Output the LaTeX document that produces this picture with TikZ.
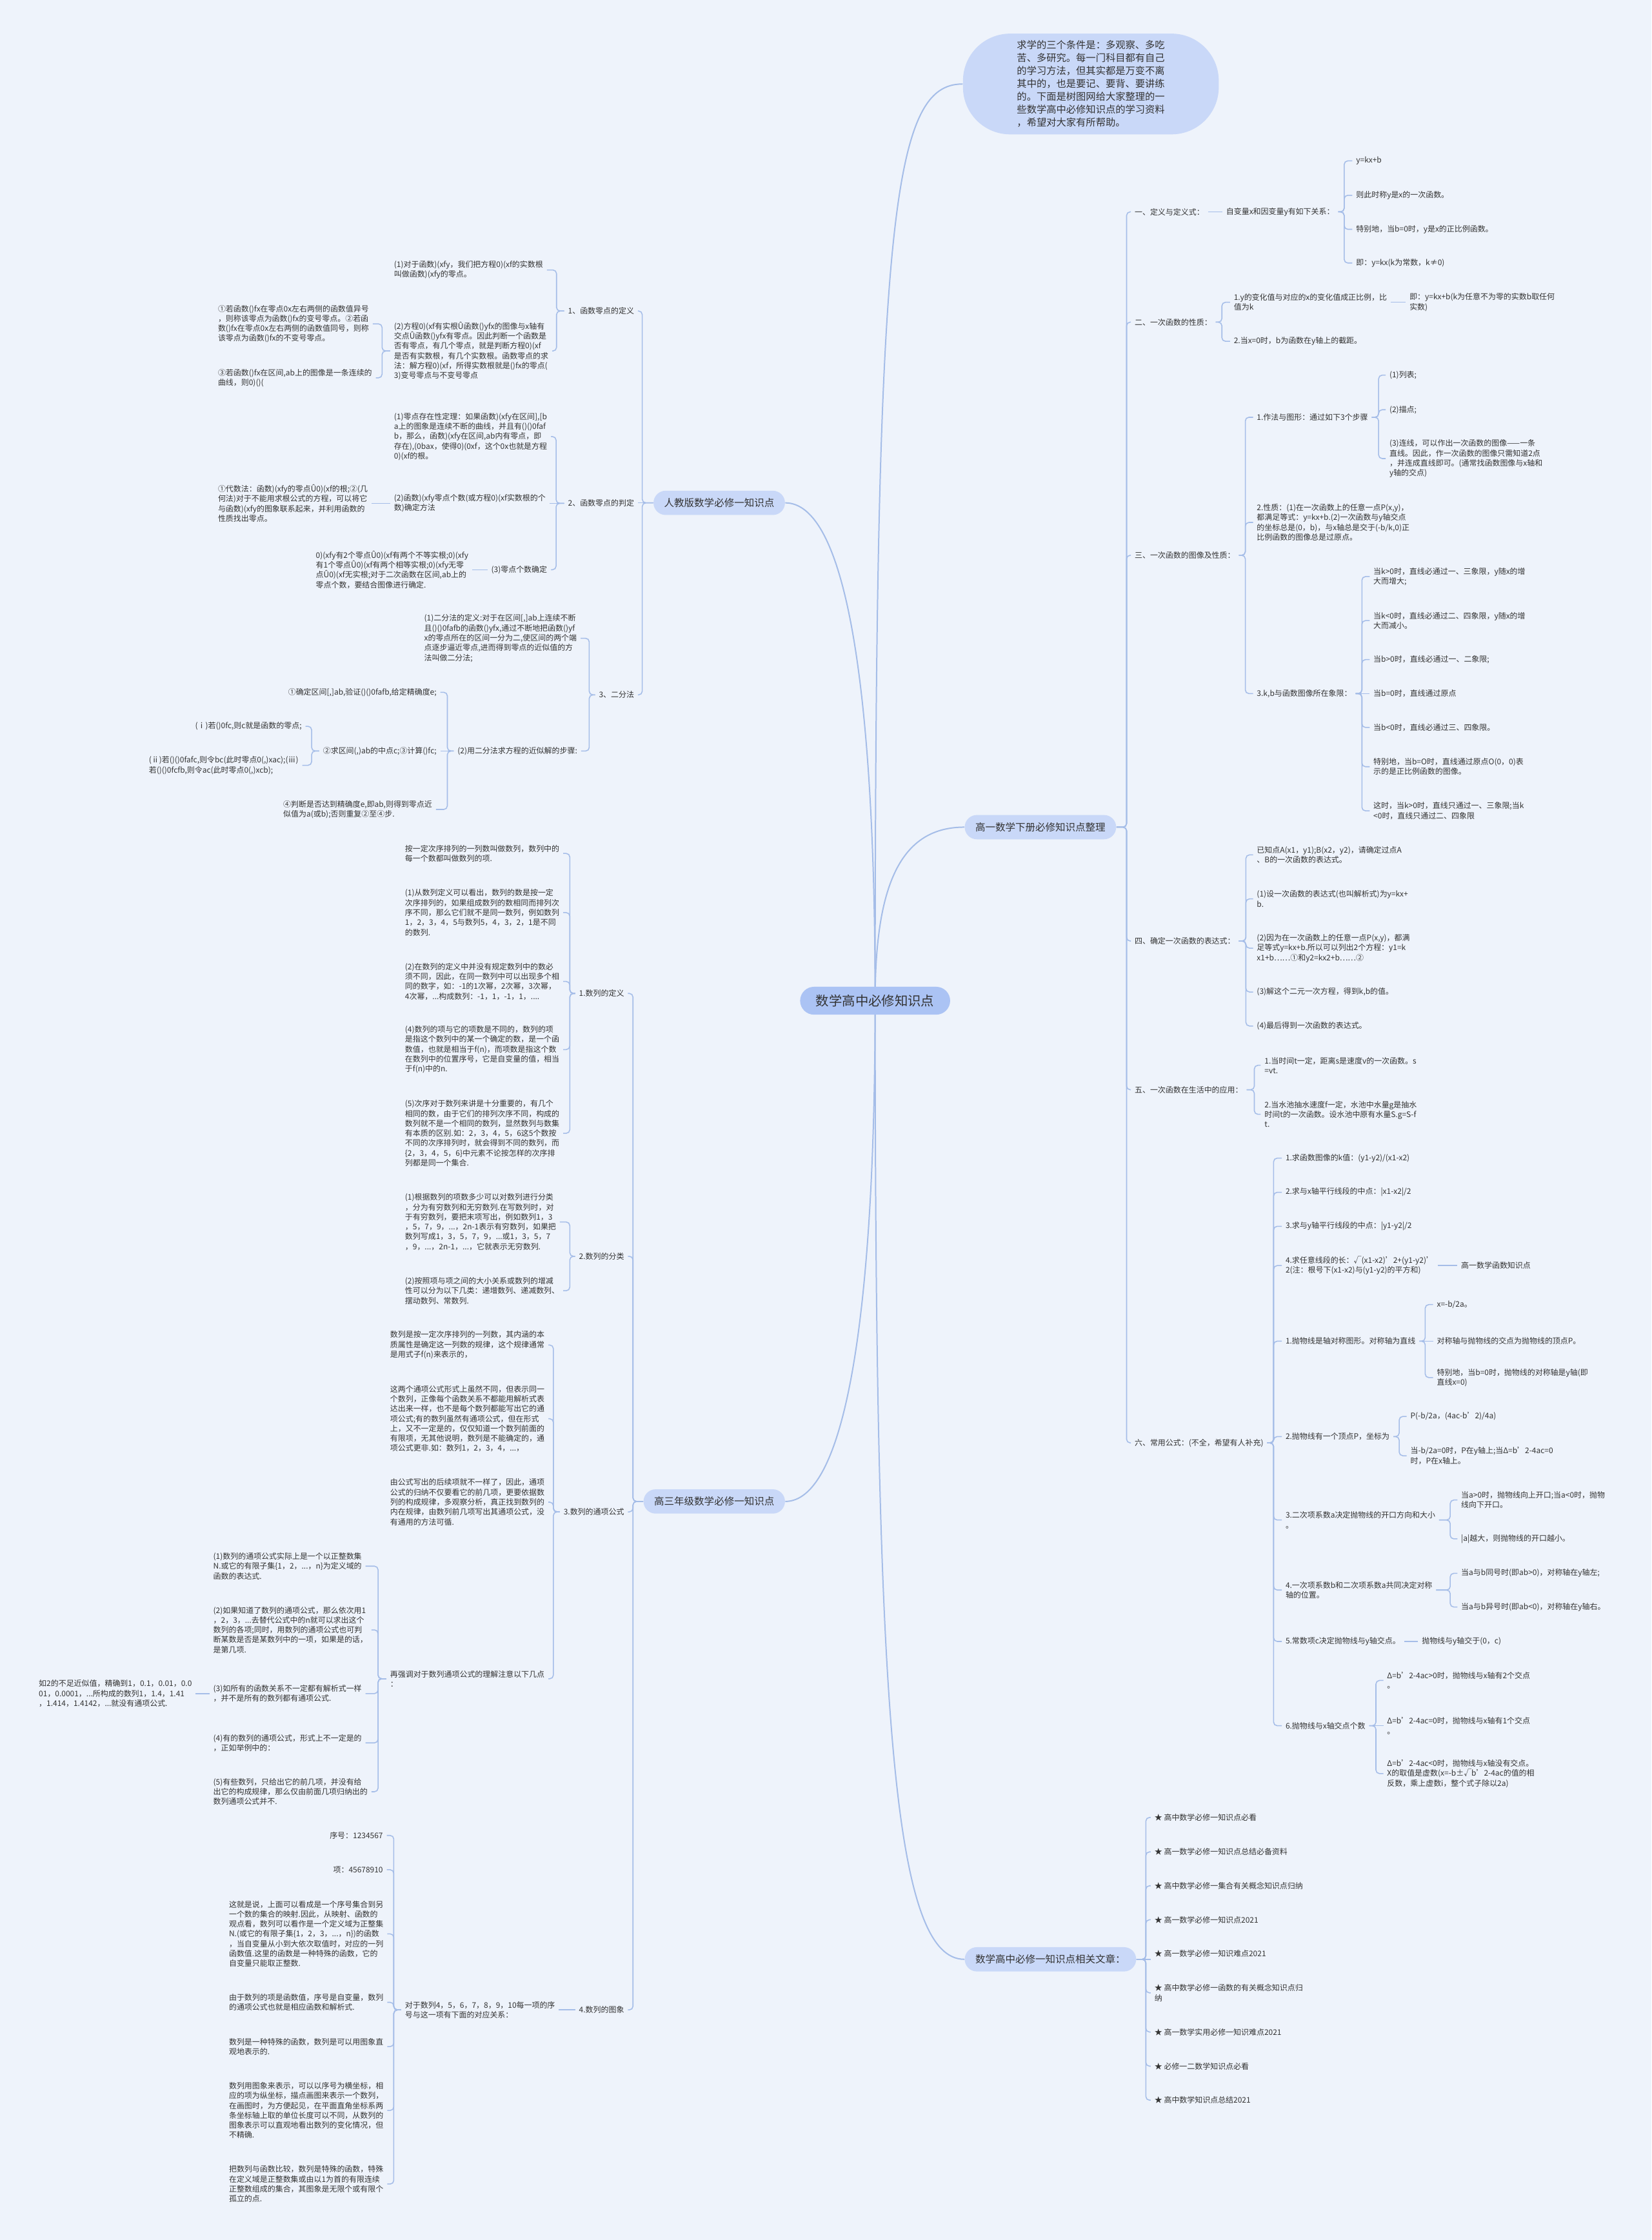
\documentclass[tikz,border=0pt]{standalone}
\usepackage{fontspec}
\setmainfont{Noto Sans CJK SC}
\usetikzlibrary{calc}
\pgfdeclarelayer{bg}
\pgfsetlayers{bg,main}
\definecolor{bgc}{HTML}{EEF3FB}
\definecolor{lnc}{HTML}{A5BDE8}
\definecolor{cfill}{HTML}{ABC3F4}
\definecolor{bfill}{HTML}{C9D8F8}
\definecolor{tc}{HTML}{333333}
\newcommand\cnR[3]{\draw[conn] let \p1=(#1.east) in (\p1) -- (#2pt,\y1) |- (#3.west);}
\newcommand\cnL[3]{\draw[conn] let \p1=(#1.west) in (\p1) -- (#2pt,\y1) |- (#3.east);}
\newcommand\snR[2]{\draw[conn] (#1.east) -- (#1.east -| #2.west);}
\newcommand\snL[2]{\draw[conn] (#1.west) -- (#1.west -| #2.east);}
\begin{document}
\begin{tikzpicture}[x=1pt,y=-1pt,
  txt/.style={font=\fontsize{5.4}{6.9}\selectfont, align=left, inner xsep=2.5pt, inner ysep=0.5pt, text=tc},
  rt/.style={txt, anchor=west, xshift=-2.5pt},
  le/.style={txt, anchor=east, xshift=2.5pt},
  conn/.style={draw=lnc, line width=0.7pt, rounded corners=2.5pt},
  mainl/.style={draw=lnc, line width=0.9pt},
  cnode/.style={fill=cfill, rounded corners=9.75pt, minimum height=19.5pt, minimum width=105pt, inner sep=0pt, font=\fontsize{9.2}{11}\selectfont, text=tc},
  bnode/.style={fill=bfill, rounded corners=8.5pt, minimum height=17pt, inner xsep=7.5pt, inner ysep=0pt, font=\fontsize{7}{8.5}\selectfont, text=tc},
  bubble/.style={fill=bfill, rounded corners=33pt, minimum width=179pt, minimum height=70.5pt, inner sep=0pt, align=left, font=\fontsize{6.9}{9.03}\selectfont, text=tc}]
\useasboundingbox (0,0) rectangle (1156,1568);

% ---------- main nodes
\node[cnode] (C) at (612.5,700.5) {数学高中必修知识点};
\node[bubble] (T) at (763.5,58.8) {求学的三个条件是：多观察、多吃\\苦、多研究。每一门科目都有自己\\的学习方法，但其实都是万变不离\\其中的，也是要记、要背、要讲练\\的。下面是树图网给大家整理的一\\些数学高中必修知识点的学习资料\\，希望对大家有所帮助。};
\node[bnode, anchor=east] (L1) at (549.6,352) {人教版数学必修一知识点};
\node[bnode, anchor=east] (L2) at (549.6,1051) {高三年级数学必修一知识点};
\node[bnode, anchor=west] (R1) at (675,579) {高一数学下册必修知识点整理};
\node[bnode, anchor=west] (R2) at (675,1371.5) {数学高中必修一知识点相关文章：};

% ---------- right branch R1
\node[rt] (r1) at (794,148.3) {一、定义与定义式：};
\node[rt] (r1a) at (858,148.3) {自变量x和因变量y有如下关系：};
\node[rt] (r1a1) at (949,112.6) {y=kx+b};
\node[rt] (r1a2) at (949,136.7) {则此时称y是x的一次函数。};
\node[rt] (r1a3) at (949,160.5) {特别地，当b=0时，y是x的正比例函数。};
\node[rt] (r1a4) at (949,184.1) {即：y=kx(k为常数，k≠0)};

\node[rt] (r2) at (794,225.5) {二、一次函数的性质：};
\node[rt] (r2a) at (863.4,211.6) {1.y的变化值与对应的x的变化值成正比例，比\\值为k};
\node[rt] (r2a1) at (986.4,211.6) {即：y=kx+b(k为任意不为零的实数b取任何\\实数)};
\node[rt] (r2b) at (863.4,238.9) {2.当x=0时，b为函数在y轴上的截距。};

\node[rt] (r3) at (794,388.7) {三、一次函数的图像及性质：};
\node[rt] (r3a) at (879.5,292.1) {1.作法与图形：通过如下3个步骤};
\node[rt] (r3a1) at (972.3,262.6) {(1)列表;};
\node[rt] (r3a2) at (972.3,286.8) {(2)描点;};
\node[rt] (r3a3) at (972.3,321) {(3)连线，可以作出一次函数的图像——一条\\直线。因此，作一次函数的图像只需知道2点\\，并连成直线即可。(通常找函数图像与x轴和\\y轴的交点)};
\node[rt] (r3b) at (879.5,365.7) {2.性质：(1)在一次函数上的任意一点P(x,y)，\\都满足等式：y=kx+b.(2)一次函数与y轴交点\\的坐标总是(0，b)，与x轴总是交于(-b/k,0)正\\比例函数的图像总是过原点。};
\node[rt] (r3c) at (879.5,485.5) {3.k,b与函数图像所在象限：};
\node[rt] (r3c1) at (961.1,403.6) {当k>0时，直线必通过一、三象限，y随x的增\\大而增大;};
\node[rt] (r3c2) at (961.1,434.4) {当k<0时，直线必通过二、四象限，y随x的增\\大而减小。};
\node[rt] (r3c3) at (961.1,461.7) {当b>0时，直线必通过一、二象限;};
\node[rt] (r3c4) at (961.1,485.5) {当b=0时，直线通过原点};
\node[rt] (r3c5) at (961.1,509.2) {当b<0时，直线必通过三、四象限。};
\node[rt] (r3c6) at (961.1,536.7) {特别地，当b=O时，直线通过原点O(0，0)表\\示的是正比例函数的图像。};
\node[rt] (r3c7) at (961.1,567.6) {这时，当k>0时，直线只通过一、三象限;当k\\<0时，直线只通过二、四象限};

\node[rt] (r4) at (794,658.7) {四、确定一次函数的表达式：};
\node[rt] (r4a) at (879.5,598.4) {已知点A(x1，y1);B(x2，y2)，请确定过点A\\、B的一次函数的表达式。};
\node[rt] (r4b) at (879.5,629.2) {(1)设一次函数的表达式(也叫解析式)为y=kx+\\b.};
\node[rt] (r4c) at (879.5,663.7) {(2)因为在一次函数上的任意一点P(x,y)，都满\\足等式y=kx+b.所以可以列出2个方程：y1=k\\x1+b……①和y2=kx2+b……②};
\node[rt] (r4d) at (879.5,694.4) {(3)解这个二元一次方程，得到k,b的值。};
\node[rt] (r4e) at (879.5,718.2) {(4)最后得到一次函数的表达式。};

\node[rt] (r5) at (794,762.8) {五、一次函数在生活中的应用：};
\node[rt] (r5a) at (884.9,745.7) {1.当时间t一定，距离s是速度v的一次函数。s\\=vt.};
\node[rt] (r5b) at (884.9,780) {2.当水池抽水速度f一定，水池中水量g是抽水\\时间t的一次函数。设水池中原有水量S.g=S-f\\t.};

\node[rt] (r6) at (794,1010) {六、常用公式：(不全，希望有人补充)};
\node[rt] (r6a) at (899.6,810.7) {1.求函数图像的k值：(y1-y2)/(x1-x2)};
\node[rt] (r6b) at (899.6,834.6) {2.求与x轴平行线段的中点：|x1-x2|/2};
\node[rt] (r6c) at (899.6,858.4) {3.求与y轴平行线段的中点：|y1-y2|/2};
\node[rt] (r6d) at (899.6,885.9) {4.求任意线段的长：√(x1-x2)’2+(y1-y2)’\\2(注：根号下(x1-x2)与(y1-y2)的平方和)};
\node[rt] (r6d1) at (1022.5,885.9) {高一数学函数知识点};
\node[rt] (r6e) at (899.6,938.8) {1.抛物线是轴对称图形。对称轴为直线};
\node[rt] (r6e1) at (1005.5,913.2) {x=-b/2a。};
\node[rt] (r6e2) at (1005.5,938.8) {对称轴与抛物线的交点为抛物线的顶点P。};
\node[rt] (r6e3) at (1005.5,964.3) {特别地，当b=0时，抛物线的对称轴是y轴(即\\直线x=0)};
\node[rt] (r6f) at (899.6,1005.6) {2.抛物线有一个顶点P，坐标为};
\node[rt] (r6f1) at (987,991.5) {P(-b/2a，(4ac-b’2)/4a)};
\node[rt] (r6f2) at (987,1019) {当-b/2a=0时，P在y轴上;当Δ=b’2-4ac=0\\时，P在x轴上。};
\node[rt] (r6g) at (899.6,1064) {3.二次项系数a决定抛物线的开口方向和大小\\。};
\node[rt] (r6g1) at (1022.5,1050) {当a>0时，抛物线向上开口;当a<0时，抛物\\线向下开口。};
\node[rt] (r6g2) at (1022.5,1077.2) {|a|越大，则抛物线的开口越小。};
\node[rt] (r6h) at (899.6,1113) {4.一次项系数b和二次项系数a共同决定对称\\轴的位置。};
\node[rt] (r6h1) at (1022.5,1101.3) {当a与b同号时(即ab>0)，对称轴在y轴左;};
\node[rt] (r6h2) at (1022.5,1124.9) {当a与b异号时(即ab<0)，对称轴在y轴右。};
\node[rt] (r6i) at (899.6,1149) {5.常数项c决定抛物线与y轴交点。};
\node[rt] (r6i1) at (995,1149) {抛物线与y轴交于(0，c)};
\node[rt] (r6j) at (899.6,1208) {6.抛物线与x轴交点个数};
\node[rt] (r6j1) at (970.7,1176.3) {Δ=b’2-4ac>0时，抛物线与x轴有2个交点\\。};
\node[rt] (r6j2) at (970.7,1208) {Δ=b’2-4ac=0时，抛物线与x轴有1个交点\\。};
\node[rt] (r6j3) at (970.7,1241.5) {Δ=b’2-4ac<0时，抛物线与x轴没有交点。\\X的取值是虚数(x=-b±√b’2-4ac的值的相\\反数，乘上虚数i，整个式子除以2a)};

% ---------- right branch R2
\node[rt] (s1) at (807.9,1272.2) {★ 高中数学必修一知识点必看};
\node[rt] (s2) at (807.9,1296.3) {★ 高一数学必修一知识点总结必备资料};
\node[rt] (s3) at (807.9,1320) {★ 高中数学必修一集合有关概念知识点归纳};
\node[rt] (s4) at (807.9,1343.8) {★ 高一数学必修一知识点2021};
\node[rt] (s5) at (807.9,1367.7) {★ 高一数学必修一知识难点2021};
\node[rt] (s6) at (807.9,1395) {★ 高中数学必修一函数的有关概念知识点归\\纳};
\node[rt] (s7) at (807.9,1422.4) {★ 高一数学实用必修一知识难点2021};
\node[rt] (s8) at (807.9,1446.3) {★ 必修一二数学知识点必看};
\node[rt] (s9) at (807.9,1470.1) {★ 高中数学知识点总结2021};

% ---------- left branch L1
\node[le] (l1) at (444,217.7) {1、函数零点的定义};
\node[rt] (l1a) at (275.6,189) {(1)对于函数)(xfy，我们把方程0)(xf的实数根\\叫做函数)(xfy的零点。};
\node[rt] (l1b) at (275.6,245.7) {(2)方程0)(xf有实根Û函数()yfx的图像与x轴有\\交点Û函数()yfx有零点。因此判断一个函数是\\否有零点，有几个零点，就是判断方程0)(xf\\是否有实数根，有几个实数根。函数零点的求\\法：解方程0)(xf，所得实数根就是()fx的零点(\\3)变号零点与不变号零点};
\node[rt] (l1b1) at (152.4,226.7) {①若函数()fx在零点0x左右两侧的函数值异号\\，则称该零点为函数()fx的变号零点。②若函\\数()fx在零点0x左右两侧的函数值同号，则称\\该零点为函数()fx的不变号零点。};
\node[rt] (l1b2) at (152.4,264.5) {③若函数()fx在区间,ab上的图像是一条连续的\\曲线，则0)()(};

\node[le] (l2) at (444,352.3) {2、函数零点的判定};
\node[rt] (l2a) at (275.6,305.6) {(1)零点存在性定理：如果函数)(xfy在区间],[b\\a上的图象是连续不断的曲线，并且有()()0faf\\b，那么，函数)(xfy在区间,ab内有零点，即\\存在),(0bax，使得0)(0xf，这个0x也就是方程\\0)(xf的根。};
\node[rt] (l2b) at (275.6,352.3) {(2)函数)(xfy零点个数(或方程0)(xf实数根的个\\数)确定方法};
\node[rt] (l2b1) at (152.4,352.3) {①代数法：函数)(xfy的零点Û0)(xf的根;②(几\\何法)对于不能用求根公式的方程，可以将它\\与函数)(xfy的图象联系起来，并利用函数的\\性质找出零点。};
\node[le] (l2c) at (383.1,398.8) {(3)零点个数确定};
\node[rt] (l2c1) at (220.9,398.8) {0)(xfy有2个零点Û0)(xf有两个不等实根;0)(xfy\\有1个零点Û0)(xf有两个相等实根;0)(xfy无零\\点Û0)(xf无实根;对于二次函数在区间,ab上的\\零点个数，要结合图像进行确定.};

\node[le] (l3) at (444,486.4) {3、二分法};
\node[rt] (l3a) at (296.7,446.8) {(1)二分法的定义:对于在区间[,]ab上连续不断\\且()()0fafb的函数()yfx,通过不断地把函数()yf\\x的零点所在的区间一分为二,使区间的两个端\\点逐步逼近零点,进而得到零点的近似值的方\\法叫做二分法;};
\node[le] (l3b) at (404.2,525.7) {(2)用二分法求方程的近似解的步骤:};
\node[le] (l3b1) at (305.7,484.6) {①确定区间[,]ab,验证()()0fafb,给定精确度e;};
\node[le] (l3b2) at (305.7,525.7) {②求区间(,)ab的中点c;③计算()fc;};
\node[le] (l3b2a) at (211.3,508.4) {(ⅰ)若()0fc,则c就是函数的零点;};
\node[rt] (l3b2b) at (104,535.7) {(ⅱ)若()()0fafc,则令bc(此时零点0(,)xac);(ⅲ)\\若()()0fcfb,则令ac(此时零点0(,)xcb);};
\node[rt] (l3b3) at (198.1,566.6) {④判断是否达到精确度e,即ab,则得到零点近\\似值为a(或b);否则重复②至④步.};

% ---------- left branch L2
\node[le] (m1) at (437,695.4) {1.数列的定义};
\node[rt] (m1a) at (283.3,597.4) {按一定次序排列的一列数叫做数列，数列中的\\每一个数都叫做数列的项.};
\node[rt] (m1b) at (283.3,638.8) {(1)从数列定义可以看出，数列的数是按一定\\次序排列的，如果组成数列的数相同而排列次\\序不同，那么它们就不是同一数列，例如数列\\1，2，3，4，5与数列5，4，3，2，1是不同\\的数列.};
\node[rt] (m1c) at (283.3,687) {(2)在数列的定义中并没有规定数列中的数必\\须不同，因此，在同一数列中可以出现多个相\\同的数字，如：-1的1次幂，2次幂，3次幂，\\4次幂，...构成数列：-1，1，-1，1，....};
\node[rt] (m1d) at (283.3,734.7) {(4)数列的项与它的项数是不同的，数列的项\\是指这个数列中的某一个确定的数，是一个函\\数值，也就是相当于f(n)，而项数是指这个数\\在数列中的位置序号，它是自变量的值，相当\\于f(n)中的n.};
\node[rt] (m1e) at (283.3,793.3) {(5)次序对于数列来讲是十分重要的，有几个\\相同的数，由于它们的排列次序不同，构成的\\数列就不是一个相同的数列，显然数列与数集\\有本质的区别.如：2，3，4，5，6这5个数按\\不同的次序排列时，就会得到不同的数列，而\\\{2，3，4，5，6\}中元素不论按怎样的次序排\\列都是同一个集合.};

\node[le] (m2) at (437,879.4) {2.数列的分类};
\node[rt] (m2a) at (283.3,855.4) {(1)根据数列的项数多少可以对数列进行分类\\，分为有穷数列和无穷数列.在写数列时，对\\于有穷数列，要把末项写出，例如数列1，3\\，5，7，9，...，2n-1表示有穷数列，如果把\\数列写成1，3，5，7，9，...或1，3，5，7\\，9，...，2n-1，...，它就表示无穷数列.};
\node[rt] (m2b) at (283.3,903.5) {(2)按照项与项之间的大小关系或数列的增减\\性可以分为以下几类：递增数列、递减数列、\\摆动数列、常数列.};

\node[le] (m3) at (437,1058.3) {3.数列的通项公式};
\node[rt] (m3a) at (272.9,941.5) {数列是按一定次序排列的一列数，其内涵的本\\质属性是确定这一列数的规律，这个规律通常\\是用式子f(n)来表示的，};
\node[rt] (m3b) at (272.9,993.1) {这两个通项公式形式上虽然不同，但表示同一\\个数列，正像每个函数关系不都能用解析式表\\达出来一样，也不是每个数列都能写出它的通\\项公式;有的数列虽然有通项公式，但在形式\\上，又不一定是的，仅仅知道一个数列前面的\\有限项，无其他说明，数列是不能确定的，通\\项公式更非.如：数列1，2，3，4，...，};
\node[rt] (m3c) at (272.9,1051.5) {由公式写出的后续项就不一样了，因此，通项\\公式的归纳不仅要看它的前几项，更要依据数\\列的构成规律，多观察分析，真正找到数列的\\内在规律，由数列前几项写出其通项公式，没\\有通用的方法可循.};
\node[rt] (m3d) at (272.9,1175.1) {再强调对于数列通项公式的理解注意以下几点\\：};
\node[rt] (m3d1) at (149.1,1096.3) {(1)数列的通项公式实际上是一个以正整数集\\N.或它的有限子集\{1，2，...，n\}为定义域的\\函数的表达式.};
\node[rt] (m3d2) at (149.1,1140.9) {(2)如果知道了数列的通项公式，那么依次用1\\，2，3，...去替代公式中的n就可以求出这个\\数列的各项;同时，用数列的通项公式也可判\\断某数是否是某数列中的一项，如果是的话，\\是第几项.};
\node[rt] (m3d3) at (149.1,1185.5) {(3)如所有的函数关系不一定都有解析式一样\\，并不是所有的数列都有通项公式.};
\node[rt] (m3d3a) at (27,1185.5) {如2的不足近似值，精确到1，0.1，0.01，0.0\\01，0.0001，...所构成的数列1，1.4，1.41\\，1.414，1.4142，...就没有通项公式.};
\node[rt] (m3d4) at (149.1,1220) {(4)有的数列的通项公式，形式上不一定是的\\，正如举例中的：};
\node[rt] (m3d5) at (149.1,1254.2) {(5)有些数列，只给出它的前几项，并没有给\\出它的构成规律，那么仅由前面几项归纳出的\\数列通项公式并不.};

\node[le] (m4) at (437,1406.9) {4.数列的图象};
\node[rt] (m4a) at (283.3,1406.9) {对于数列4，5，6，7，8，9，10每一项的序\\号与这一项有下面的对应关系：};
\node[le] (m4a1) at (268.2,1284.8) {序号：1234567};
\node[le] (m4a2) at (268.2,1308.8) {项：45678910};
\node[rt] (m4a3) at (160.1,1353.7) {这就是说，上面可以看成是一个序号集合到另\\一个数的集合的映射.因此，从映射、函数的\\观点看，数列可以看作是一个定义域为正整集\\N.(或它的有限子集\{1，2，3，...，n\})的函数\\，当自变量从小到大依次取值时，对应的一列\\函数值.这里的函数是一种特殊的函数，它的\\自变量只能取正整数.};
\node[rt] (m4a4) at (160.1,1401.6) {由于数列的项是函数值，序号是自变量，数列\\的通项公式也就是相应函数和解析式.};
\node[rt] (m4a5) at (160.1,1432.6) {数列是一种特殊的函数，数列是可以用图象直\\观地表示的.};
\node[rt] (m4a6) at (160.1,1477.3) {数列用图象来表示，可以以序号为横坐标，相\\应的项为纵坐标，描点画图来表示一个数列，\\在画图时，为方便起见，在平面直角坐标系两\\条坐标轴上取的单位长度可以不同，从数列的\\图象表示可以直观地看出数列的变化情况，但\\不精确.};
\node[rt] (m4a7) at (160.1,1528.8) {把数列与函数比较，数列是特殊的函数，特殊\\在定义域是正整数集或由以1为首的有限连续\\正整数组成的集合，其图象是无限个或有限个\\孤立的点.};

% ---------- connectors
\begin{pgfonlayer}{bg}
\fill[bgc] (0,0) rectangle (1156,1568);
\draw[mainl] (C.center) .. controls (612.5,150) and (625,58.8) .. (T.west);
\draw[mainl] (C.center) .. controls (612.5,470) and (590,352) .. (L1.east);
\draw[mainl] (C.center) .. controls (612.5,930) and (590,1051) .. (L2.east);
\draw[mainl] (C.center) .. controls (612.5,620) and (630,579) .. (R1.west);
\draw[mainl] (C.center) .. controls (612.5,1200) and (625,1371.5) .. (R2.west);

\foreach \q in {r1,r2,r3,r4,r5,r6} {\cnR{R1}{788.5}{\q}}
\snR{r1}{r1a}
\foreach \q in {r1a1,r1a2,r1a3,r1a4} {\cnR{r1a}{940.8}{\q}}
\cnR{r2}{855.2}{r2a}
\cnR{r2}{855.2}{r2b}
\snR{r2a}{r2a1}
\foreach \q in {r3a,r3b,r3c} {\cnR{r3}{871.6}{\q}}
\foreach \q in {r3a1,r3a2,r3a3} {\cnR{r3a}{964.9}{\q}}
\foreach \q in {r3c1,r3c2,r3c3,r3c5,r3c6,r3c7} {\cnR{r3c}{953.2}{\q}}
\snR{r3c}{r3c4}
\foreach \q in {r4a,r4b,r4c,r4d,r4e} {\cnR{r4}{872}{\q}}
\cnR{r5}{877.9}{r5a}
\cnR{r5}{877.9}{r5b}
\foreach \q in {r6a,r6b,r6c,r6d,r6e,r6f,r6g,r6h,r6i,r6j} {\cnR{r6}{891.4}{\q}}
\snR{r6d}{r6d1}
\cnR{r6e}{997.5}{r6e1}
\snR{r6e}{r6e2}
\cnR{r6e}{997.5}{r6e3}
\cnR{r6f}{979.3}{r6f1}
\cnR{r6f}{979.3}{r6f2}
\cnR{r6g}{1015}{r6g1}
\cnR{r6g}{1015}{r6g2}
\cnR{r6h}{1015}{r6h1}
\cnR{r6h}{1015}{r6h2}
\snR{r6i}{r6i1}
\cnR{r6j}{963}{r6j1}
\snR{r6j}{r6j2}
\cnR{r6j}{963}{r6j3}

\foreach \q in {s1,s2,s3,s4,s6,s7,s8,s9} {\cnR{R2}{802}{\q}}
\snR{R2}{s5}

\cnL{L1}{449.5}{l1}
\snL{L1}{l2}
\cnL{L1}{449.5}{l3}
\cnL{l1}{389.5}{l1a}
\cnL{l1}{389.5}{l1b}
\cnL{l1b}{267.4}{l1b1}
\cnL{l1b}{267.4}{l1b2}
\cnL{l2}{389.2}{l2a}
\snL{l2}{l2b}
\cnL{l2}{389.2}{l2c}
\snL{l2b}{l2b1}
\snL{l2c}{l2c1}
\cnL{l3}{412.4}{l3a}
\cnL{l3}{412.4}{l3b}
\cnL{l3b}{313.1}{l3b1}
\snL{l3b}{l3b2}
\cnL{l3b}{313.1}{l3b3}
\cnL{l3b2}{218.1}{l3b2a}
\cnL{l3b2}{218.1}{l3b2b}

\foreach \q in {m1,m2,m3,m4} {\cnL{L2}{443}{\q}}
\foreach \q in {m1a,m1b,m1c,m1d,m1e} {\cnL{m1}{398.8}{\q}}
\cnL{m2}{398.8}{m2a}
\cnL{m2}{398.8}{m2b}
\foreach \q in {m3a,m3b,m3c,m3d} {\cnL{m3}{387.3}{\q}}
\foreach \q in {m3d1,m3d2,m3d3,m3d4,m3d5} {\cnL{m3d}{264.6}{\q}}
\snL{m3d3}{m3d3a}
\snL{m4}{m4a}
\foreach \q in {m4a1,m4a2,m4a3,m4a4,m4a5,m4a6,m4a7} {\cnL{m4a}{275.6}{\q}}
\end{pgfonlayer}
\end{tikzpicture}
\end{document}
